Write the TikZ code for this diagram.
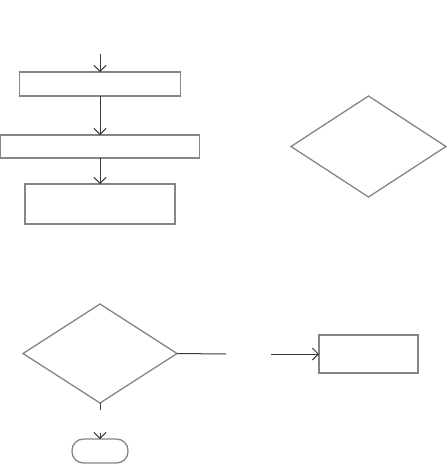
\documentclass[tikz,border=0pt]{standalone}
\usetikzlibrary{shapes.geometric,arrows.meta}
\definecolor{shapegray}{HTML}{858585}
\definecolor{linegray}{HTML}{3A3A3A}
\tikzset{
  box/.style={draw=shapegray,line width=1.3pt,rectangle,inner sep=0pt,outer sep=0pt},
  dia/.style={draw=shapegray,line width=1.3pt,diamond,inner sep=0pt,outer sep=0pt},
  term/.style={draw=shapegray,line width=1.3pt,rectangle,rounded corners=11.5pt,inner sep=0pt,outer sep=0pt},
  conn/.style={draw=linegray,line width=1pt,-{Straight Barb[length=6pt,width=12pt,line width=1pt]}},
  plain/.style={draw=linegray,line width=1pt}
}
\begin{document}
\begin{tikzpicture}[x=1pt,y=-1pt]
\useasboundingbox (0,0) rectangle (447,464);
\node[box,minimum width=161pt,minimum height=24pt] (b1) at (100,84) {};
\node[box,minimum width=199pt,minimum height=23pt] (b2) at (100,146.5) {};
\node[box,minimum width=150pt,minimum height=40pt] (b3) at (100,204) {};
\node[dia,minimum width=155pt,minimum height=101pt] (d1) at (368.5,146.5) {};
\node[dia,minimum width=154pt,minimum height=99pt] (d2) at (100,353.5) {};
\node[box,minimum width=99pt,minimum height=38pt] (b4) at (368.5,354) {};
\node[term,minimum width=56pt,minimum height=24pt] (t1) at (100,451) {};
\coordinate (start) at (100,54);
\coordinate (r1) at (226,354);
\coordinate (r2) at (271,354);
\coordinate (s1) at (100,410);
\coordinate (s2) at (100,433);
\draw[conn] (start) -- (b1.north);
\draw[conn] (b1.south) -- (b2.north);
\draw[conn] (b2.south) -- (b3.north);
\draw[plain] (d2.east) -- (r1);
\draw[conn] (r2) -- (b4.west);
\draw[plain] (d2.south) -- (s1);
\draw[conn] (s2) -- (t1.north);
\end{tikzpicture}
\end{document}
